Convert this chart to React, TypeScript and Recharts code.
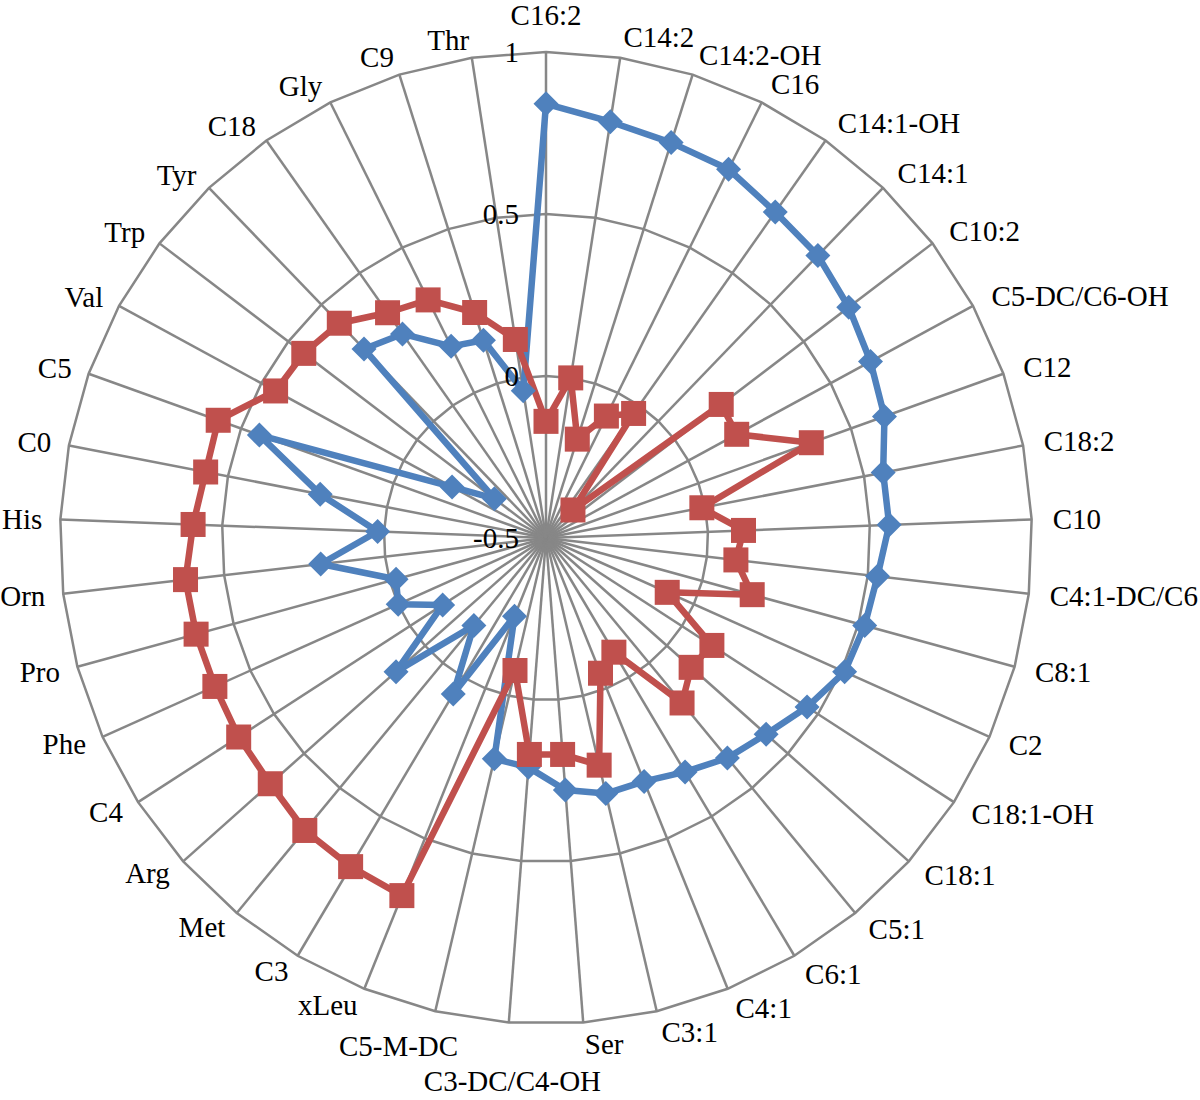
import { PolarAngleAxis, PolarGrid, PolarRadiusAxis, Radar, RadarChart } from "recharts";

// spokes, clockwise from the top
const CATEGORIES = [
  "C16:2", "C14:2", "C14:2-OH", "C16", "C14:1-OH", "C14:1", "C10:2", "C5-DC/C6-OH",
  "C12", "C18:2", "C10", "C4:1-DC/C6", "C8:1", "C2", "C18:1-OH", "C18:1", "C5:1",
  "C6:1", "C4:1", "C3:1", "Ser", "C3-DC/C4-OH", "C5-M-DC", "xLeu", "C3", "Met",
  "Arg", "C4", "Phe", "Pro", "Orn", "His", "C0", "C5", "Val", "Trp", "Tyr", "C18",
  "Gly", "C9", "Thr",
];

// blue diamonds
const SERIES_BLUE = [
  0.84, 0.8, 0.78, 0.77, 0.73, 0.71, 0.675, 0.64,
  0.61, 0.56, 0.56, 0.53, 0.52, 0.51, 0.46, 0.41, 0.38,
  0.34, 0.31, 0.31, 0.28, 0.21, 0.2, -0.24, 0.06, -0.15,
  0.12, -0.12, 0.0, -0.02, 0.2, 0.02, 0.21, 0.44, -0.17, -0.3, 0.31, 0.27,
  0.16, 0.14, -0.04,
];

// red squares
const SERIES_RED = [
  -0.14, 0.0, -0.18, -0.08, -0.03, -0.38, 0.18, 0.17,
  0.37, -0.01, 0.11, 0.09, 0.16, -0.09, 0.11, 0.1, 0.16,
  -0.09, -0.05, 0.22, 0.17, 0.17, -0.08, 0.69, 0.68, 0.67,
  0.64, 0.63, 0.62, 0.62, 0.62, 0.59, 0.57, 0.575, 0.45, 0.44, 0.42, 0.35,
  0.32, 0.23, 0.12,
];

const RADIUS_DOMAIN = [-0.5, 1];
const RADIUS_TICKS = [-0.5, 0, 0.5, 1];

const data = CATEGORIES.map((name, i) => ({
  name,
  blue: SERIES_BLUE[i],
  red: SERIES_RED[i],
}));

const CX = 546;
const CY = 538;
const R = 486;
const FONT = '"Liberation Serif", "Times New Roman", serif';
const GRID = "#878787";

// a couple of bottom labels were pushed aside in the original to avoid overlap
const LABEL_NUDGE: Record<string, { dx: number; dy: number; anchor?: string }> = {
  "C5-M-DC": { dx: 27, dy: 17 },
  "C3-DC/C4-OH": { dx: 5, dy: 40, anchor: "middle" },
};

function AngleTick(props: any) {
  const label = props.payload?.value;
  const i = CATEGORIES.indexOf(label);
  const a = ((i * 360) / CATEGORIES.length) * (Math.PI / 180);
  const s = Math.sin(a);
  const c = Math.cos(a);
  const d = R + (s < -0.02 ? 18 : 21);
  let x = CX + d * s;
  let y = CY - d * c;
  let anchor = Math.abs(s) < 0.02 ? "middle" : s > 0 ? "start" : "end";
  if (Math.abs(s) < 0.02) y += c > 0 ? -16 : 16;
  const nudge = LABEL_NUDGE[label];
  if (nudge) {
    x += nudge.dx;
    y += nudge.dy;
    if (nudge.anchor) anchor = nudge.anchor;
  }
  return (
    <text
      x={x}
      y={y}
      textAnchor={anchor}
      dominantBaseline="central"
      fontSize={29}
      fontFamily={FONT}
      fill="#000"
    >
      {label}
    </text>
  );
}

function RadiusTick(props: any) {
  const { x, y, payload } = props;
  return (
    <text
      x={x - 27}
      y={y}
      textAnchor="end"
      dominantBaseline="central"
      fontSize={29}
      fontFamily={FONT}
      fill="#000"
    >
      {payload.value}
    </text>
  );
}

function Diamond(props: any) {
  const { cx, cy } = props;
  const h = 12.5;
  return (
    <path
      d={`M${cx},${cy - h} L${cx + h},${cy} L${cx},${cy + h} L${cx - h},${cy} Z`}
      fill="#4F81BD"
    />
  );
}

function Square(props: any) {
  const { cx, cy } = props;
  const h = 12.5;
  return <rect x={cx - h} y={cy - h} width={h * 2} height={h * 2} fill="#C0504D" />;
}

export default function App() {
  return (
    <div style={{ position: "absolute", left: 0, top: 0, width: 1200, height: 1100, background: "#fff" }}>
      <RadarChart
        width={1200}
        height={1100}
        data={data}
        cx={CX}
        cy={CY}
        outerRadius={R}
        startAngle={90}
        endAngle={-270}
        margin={{ top: 0, right: 0, bottom: 0, left: 0 }}
      >
        <PolarGrid gridType="polygon" stroke={GRID} strokeWidth={2.5} strokeOpacity={1} />
        <PolarAngleAxis dataKey="name" tick={AngleTick} tickLine={false} axisLine={false} />
        <PolarRadiusAxis
          angle={90}
          type="number"
          domain={RADIUS_DOMAIN}
          ticks={RADIUS_TICKS as any}
          tickCount={4}
          allowDecimals={true}
          axisLine={false}
          tick={RadiusTick}
        />
        <Radar
          dataKey="blue"
          stroke="#4F81BD"
          strokeWidth={6.5}
          strokeLinejoin="round"
          fill="none"
          fillOpacity={0}
          dot={(p: any) => <Diamond key={`b-${p.index}`} cx={p.cx} cy={p.cy} />}
          isAnimationActive={false}
        />
        <Radar
          dataKey="red"
          stroke="#C0504D"
          strokeWidth={6.5}
          strokeLinejoin="round"
          fill="none"
          fillOpacity={0}
          dot={(p: any) => <Square key={`r-${p.index}`} cx={p.cx} cy={p.cy} />}
          isAnimationActive={false}
        />
      </RadarChart>
    </div>
  );
}
